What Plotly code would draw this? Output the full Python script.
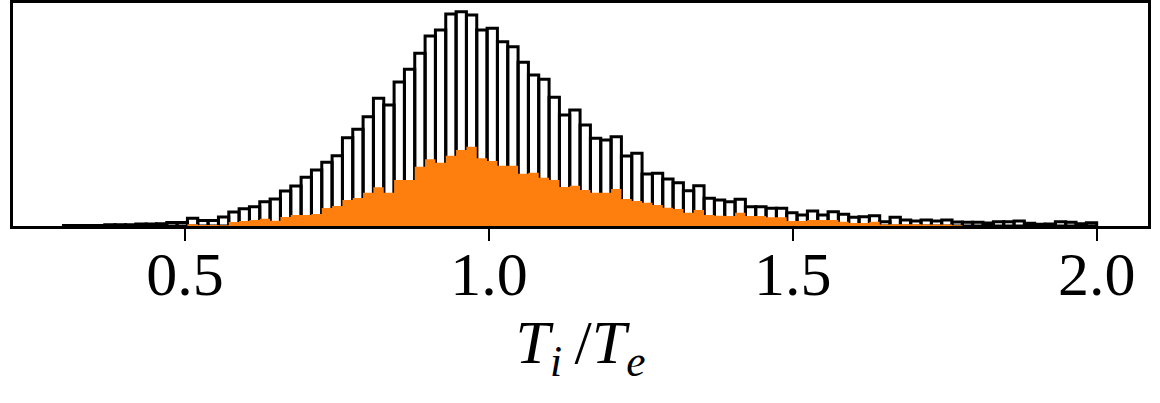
import numpy as np
import plotly.graph_objects as go

# histogram of T_i/T_e: 100 bins from 0.3 to 2.0 (heights)
bin_lo = 0.3
bin_hi = 2.0
n_bins = 100

all_counts = [
    0.4, 0.4, 0.5, 0.5, 1.2, 1.3, 1.3, 2.0, 2.0, 2.2,
    3.5, 3.5, 7.7, 5.5, 5.5, 9.0, 14.0, 17.3, 19.3, 24.3,
    27.0, 35.0, 40.0, 48.7, 56.0, 63.7, 70.3, 88.3, 96.7, 109.3,
    127.7, 121.0, 144.0, 156.7, 172.7, 190.0, 196.0, 212.0, 214.3, 211.0,
    196.0, 197.7, 184.3, 179.3, 163.7, 151.0, 146.7, 128.7, 111.0, 116.0,
    101.0, 87.7, 86.0, 89.3, 70.0, 72.7, 52.0, 52.7, 47.0, 43.3,
    35.3, 40.3, 27.7, 26.0, 24.3, 26.7, 19.3, 19.3, 17.7, 17.7,
    13.3, 11.0, 15.0, 11.0, 14.3, 11.7, 8.7, 9.3, 10.3, 4.3,
    8.7, 6.0, 5.0, 6.0, 5.0, 6.0, 4.0, 3.7, 3.7, 3.0,
    4.3, 4.3, 5.0, 2.7, 1.7, 2.0, 4.3, 3.7, 2.3, 3.3,
]

sub_counts = [
    0, 0, 0, 0, 0, 0, 0, 0, 0, 0,
    0, 0, 1.7, 1.0, 1.0, 0.7, 4.0, 5.0, 6.0, 7.3,
    5.3, 9.0, 11.0, 11.0, 12.0, 18.0, 20.0, 26.0, 28.0, 33.3,
    38.7, 33.3, 46.0, 46.0, 59.3, 66.7, 63.3, 70.3, 76.0, 79.3,
    67.7, 65.0, 60.3, 60.3, 52.3, 53.3, 48.3, 46.0, 39.0, 40.3,
    36.0, 33.3, 33.3, 37.0, 27.0, 25.0, 23.3, 21.0, 18.3, 17.0,
    13.3, 16.0, 11.0, 10.3, 10.0, 13.3, 10.0, 10.0, 8.7, 8.7,
    5.0, 5.0, 6.0, 6.0, 6.0, 4.3, 3.0, 3.0, 4.3, 1.5,
    1.7, 1.7, 1.7, 1.5, 1.5, 1.5, 0.7, 0, 0, 0,
    0, 0, 0, 0, 0, 0, 0, 0, 0, 0,
]

tick_vals = [0.5, 1.0, 1.5, 2.0]
tick_text = ["0.5", "1.0", "1.5", "2.0"]

edges = np.linspace(bin_lo, bin_hi, n_bins + 1)

# outline of every bar (histtype="bar" look), separated by None
out_x, out_y = [], []
for i, h in enumerate(all_counts):
    x0, x1 = edges[i], edges[i + 1]
    out_x += [x0, x0, x1, x1, x0, None]
    out_y += [0, h, h, 0, 0, None]

fig = go.Figure()
fig.add_trace(
    go.Scatter(
        x=out_x,
        y=out_y,
        mode="lines",
        line=dict(color="black", width=3),
        connectgaps=False,
        hoverinfo="skip",
    )
)
# stepfilled subset on top
step_y = list(sub_counts) + [sub_counts[-1]]
fig.add_trace(
    go.Scatter(
        x=edges,
        y=step_y,
        mode="lines",
        line=dict(shape="hv", width=0, color="#ff7f0e"),
        fill="tozeroy",
        fillcolor="#ff7f0e",
        hoverinfo="skip",
    )
)

fig.update_layout(
    width=1160,
    height=403,
    margin=dict(l=13, r=12, t=3, b=177),
    plot_bgcolor="white",
    paper_bgcolor="white",
    showlegend=False,
    font=dict(family="Liberation Serif", color="black"),
)
fig.update_xaxes(
    range=[0.217, 2.0844],
    automargin=False,
    tickvals=tick_vals,
    ticktext=tick_text,
    ticks="outside",
    ticklen=12,
    tickwidth=2,
    tickcolor="black",
    tickfont=dict(size=62),
    ticklabelstandoff=-20,
    showline=True,
    linecolor="black",
    linewidth=2.5,
    mirror=True,
    showgrid=False,
    zeroline=False,
    title=dict(
        text="<i>T</i><sub><i>i</i></sub>&#8201;/<i>T</i><sub><i>e</i></sub>",
        font=dict(size=62),
        standoff=11,
    ),
)
fig.update_yaxes(
    range=[0, 223],
    automargin=False,
    showticklabels=False,
    ticks="",
    showline=True,
    linecolor="black",
    linewidth=2.5,
    mirror=True,
    showgrid=False,
    zeroline=False,
)

fig.write_html(
    "out.html",
    config={"displayModeBar": False},
    post_script="document.body.style.margin='0';",
)
